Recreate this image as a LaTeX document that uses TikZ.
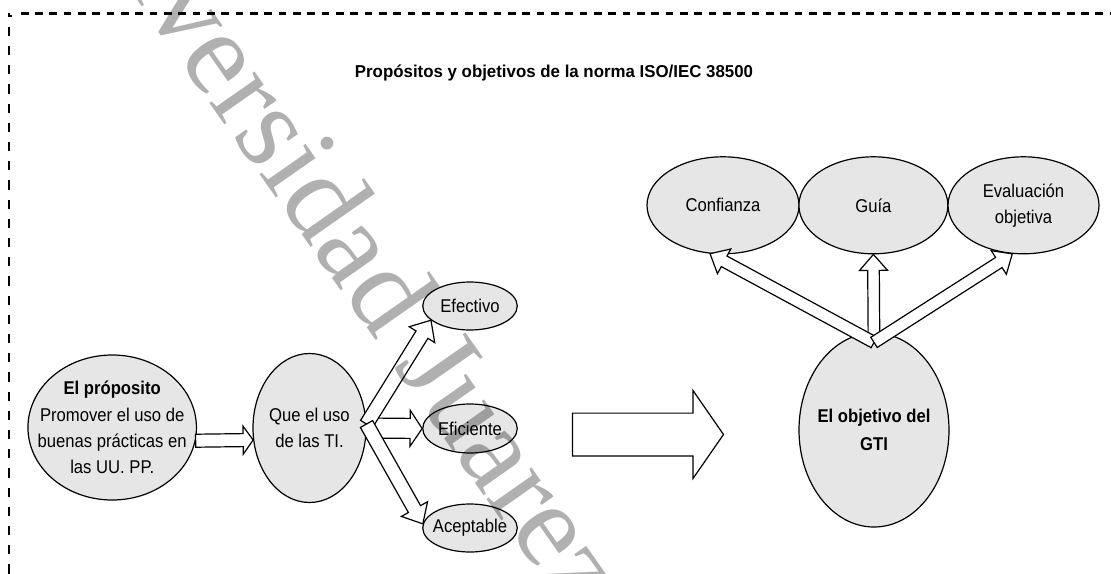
\documentclass[tikz,border=0pt]{standalone}
\usepackage{fontspec}
\setmainfont{Liberation Sans}[FakeStretch=0.9]
\newfontfamily\titlefont{Liberation Sans}[FakeStretch=0.98]
\newfontfamily\wmfont{Liberation Serif}
\usetikzlibrary{calc,shapes.geometric}
\definecolor{ellfill}{HTML}{E6E6E6}
\tikzset{
  ell/.style={ellipse, draw=black, line width=1.2pt, fill=ellfill, inner xsep=-15pt, inner ysep=0pt,
    align=center, font=\fontsize{18.5}{26.3}\selectfont},
  blockarrow/.style={draw=black, fill=white, line width=1.2pt, line join=miter},
  frameline/.style={draw=black, line width=2.4pt},
}
\newcommand\barrowdraw[5]{%
  \coordinate (ba-a) at (#1);
  \coordinate (ba-b) at (#2);
  \coordinate (ba-h) at ($(ba-b)!#5!(ba-a)$);
  \draw[blockarrow] ($(ba-a)!#3!90:(ba-b)$) -- ($(ba-h)!#3!90:(ba-b)$) -- ($(ba-h)!#4!90:(ba-b)$)
    -- (ba-b) -- ($(ba-h)!#4!-90:(ba-b)$) -- ($(ba-h)!#3!-90:(ba-b)$) -- ($(ba-a)!#3!-90:(ba-b)$) -- cycle;
}
\begin{document}
\begin{tikzpicture}[x=1pt,y=-1pt]
\useasboundingbox (0,0) rectangle (1111,573);
\clip (0,0) rectangle (1111,573);
\fill[white] (0,0) rectangle (1111,573);
% dashed frame
\draw[frameline, dash pattern=on 7.8pt off 6.53pt] (20.7,13.5) -- (1120,13.5);
\draw[draw=black, line width=2pt] (9.3,12.5) -- (9.3,16) -- (11.5,16);
\draw[draw=black, line width=2pt, dash pattern=on 9.3pt off 9.9pt] (9.3,26.7) -- (9.3,580);
% title
\node[font=\titlefont\bfseries\fontsize{17.2}{20}\selectfont, anchor=base, inner sep=0pt] (title) at (554,77.3)
  {Propósitos y objetivos de la norma ISO/IEC 38500};
% left part
\node[ell, minimum width=168.5pt, minimum height=145pt] (prop) at (112.2,427.5)
  {\textbf{El próposito}\\Promover el uso de\\buenas prácticas en\\las UU. PP.};
\node[ell, minimum width=113pt, minimum height=149pt] (que) at (309.5,428) {Que el uso\\de las TI.};
\node[ell, minimum width=94.5pt, minimum height=48pt] (efe) at (470,306) {Efectivo};
\node[ell, minimum width=94.5pt, minimum height=49pt] (efi) at (470,428.5) {Eficiente};
\node[ell, minimum width=94.5pt, minimum height=48pt] (ace) at (470,528) {Aceptable};
\barrowdraw{prop.-9}{que.192}{6.5pt}{14pt}{10pt}
\barrowdraw{que.east}{efi.west}{10pt}{18pt}{12pt}
\barrowdraw{que.4}{efe.200}{7pt}{15pt}{17pt}
\barrowdraw{que.4}{ace.175}{7pt}{15pt}{17pt}
% big arrow
\coordinate (bigA) at (572.5,434.5);
\coordinate (bigB) at (723.5,434.5);
\barrowdraw{bigA}{bigB}{21.4pt}{44pt}{30.5pt}
% right part
\node[ell, minimum width=150pt, minimum height=194pt, font=\bfseries\fontsize{18.5}{28.7}\selectfont] (gti) at (874,430)
  {El objetivo del\\GTI};
\node[ell, minimum width=152pt, minimum height=97pt] (conf) at (723,205.3) {Confianza};
\node[ell, minimum width=149pt, minimum height=97pt] (guia) at (873.4,205.3) {Guía};
\node[ell, minimum width=151pt, minimum height=97pt] (eval) at (1023.5,205.3) {Evaluación\\objetiva};
\coordinate (gtiorg) at ($(gti.north)+(0,10)$);
\barrowdraw{gtiorg}{guia.south}{5.8pt}{14pt}{16pt}
\barrowdraw{gtiorg}{conf.255}{6pt}{14pt}{16pt}
\barrowdraw{gtiorg}{eval.257}{6pt}{14pt}{16pt}
% watermark
\node[font=\wmfont\fontsize{120}{120}\selectfont, text=black, text opacity=0.31, rotate=-55,
  anchor=base west, inner sep=0pt] (wm) at (40,-139) {Universidad Juarez};
\end{tikzpicture}
\end{document}
